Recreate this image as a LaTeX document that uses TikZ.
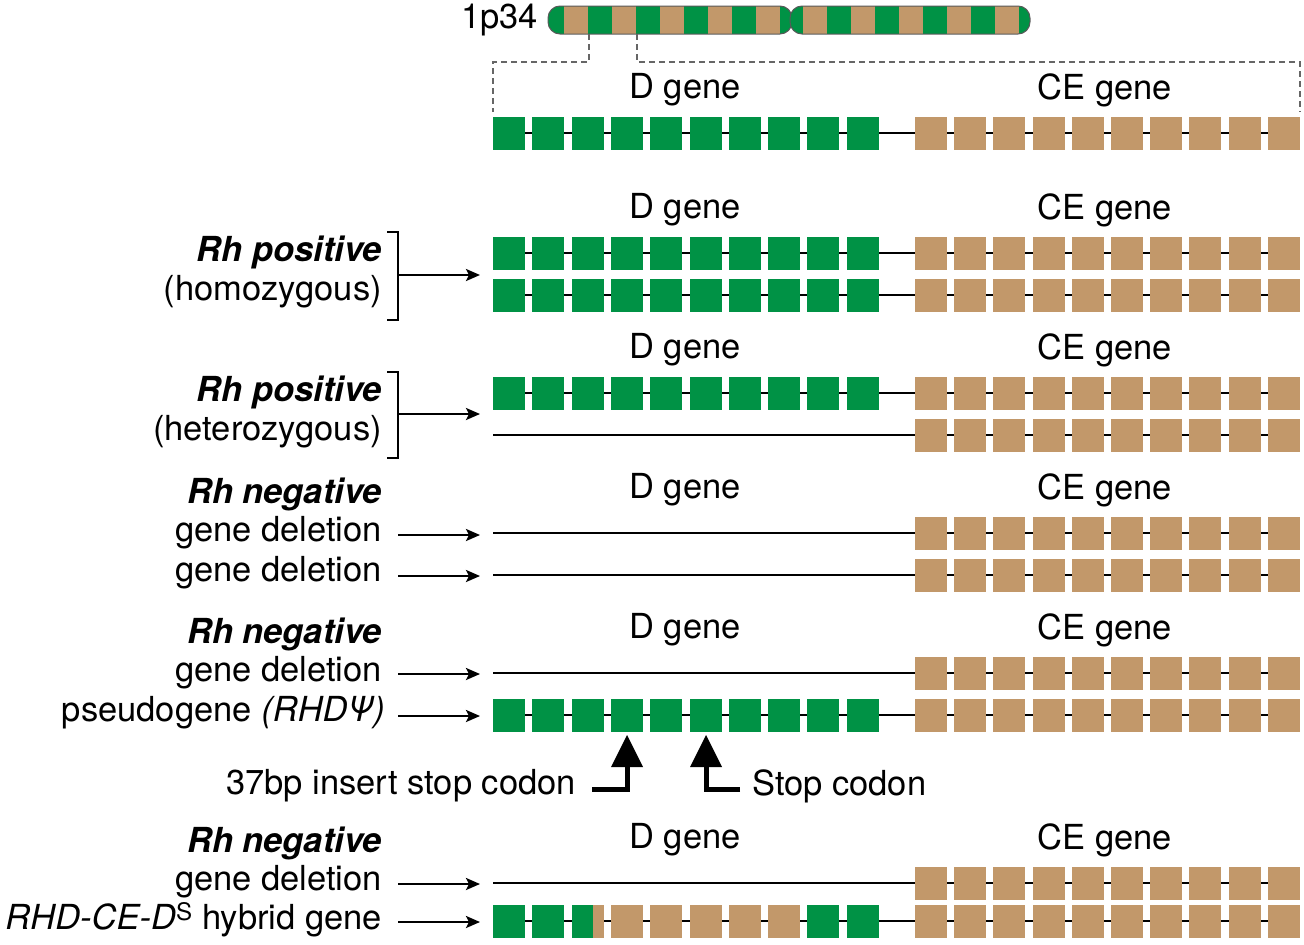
\documentclass[tikz,border=0pt]{standalone}
\usepackage{fontspec}
\setmainfont{TeX Gyre Heros}
\usetikzlibrary{arrows.meta}
\definecolor{dg}{RGB}{0,146,69}
\definecolor{tn}{RGB}{194,152,106}
\begin{document}
\begin{tikzpicture}[x=1pt,y=-1pt,
  lab/.style={anchor=east,font=\fontsize{34.5}{38}\selectfont,inner sep=0pt},
  glab/.style={font=\fontsize{34.5}{38}\selectfont,inner sep=0pt},
  arr/.style={-{Stealth[length=14pt,width=12pt,inset=3pt]},line width=2.4pt},
  bigarr/.style={line width=5pt}]
\useasboundingbox (0,0) rectangle (1304,945);
\newcommand\Dboxes[1]{\foreach \i in {0,...,9}{\fill[dg] (493+39.3*\i,#1-16.5) rectangle ++(32,33);}}
\newcommand\CEboxes[1]{\foreach \i in {0,...,9}{\fill[tn] (915+39.2*\i,#1-16.5) rectangle ++(32,33);}}
\newcommand\Line[1]{\draw[line width=1.8pt] (493,#1) -- (1300,#1);}
% chromosome
\begin{scope}
\clip[rounded corners=12pt] (548,6) rectangle (792,34);
\fill[dg] (548,6) rectangle (792,34);
\foreach \x in {564,612,660,708,756}{\fill[tn] (\x,6) rectangle ++(24,28);}
\end{scope}
\draw[gray!70!black,line width=1pt,rounded corners=12pt] (548,6) rectangle (792,34);
\begin{scope}
\clip[rounded corners=12pt] (790,6) rectangle (1030,34);
\fill[dg] (790,6) rectangle (1030,34);
\foreach \x in {803,851,899,947,995}{\fill[tn] (\x,6) rectangle ++(24,28);}
\end{scope}
\draw[gray!70!black,line width=1pt,rounded corners=12pt] (790,6) rectangle (1030,34);
\node[glab,anchor=east] (chr) at (538,20) {1p34};
\draw[dash pattern=on 6pt off 4pt,gray!80!black,line width=1.2pt] (589,34) -- (589,62) -- (493,62) -- (493,112);
\draw[dash pattern=on 6pt off 4pt,gray!80!black,line width=1.2pt] (637,34) -- (637,62) -- (1300,62) -- (1300,112);
\foreach \y/\t in {90/1,210/2,350/3,490/4,630/5,840/6}{
  \node[glab] (dg\t) at (685,\y) {D gene};
  \node[glab] (ce\t) at (1105,\y) {CE gene};}
\Line{133}\Dboxes{133}\CEboxes{133}
% homozygous
\Line{253}\Dboxes{253}\CEboxes{253}
\Line{295}\Dboxes{295}\CEboxes{295}
\node[lab] (a1) at (382,252) {\textbf{\textit{Rh positive}}};
\node[lab] (a2) at (382,292) {(homozygous)};
\draw[line width=2.4pt] (387,232) -- (398,232) -- (398,320) -- (387,320);
\coordinate (b1) at (398,275); \coordinate (e1) at (480,275);
\draw[arr] (b1) -- (e1);
% heterozygous
\Line{393}\Dboxes{393}\CEboxes{393}
\Line{435}\CEboxes{435}
\node[lab] (a3) at (382,392) {\textbf{\textit{Rh positive}}};
\node[lab] (a4) at (382,432) {(heterozygous)};
\draw[line width=2.4pt] (387,372) -- (398,372) -- (398,458) -- (387,458);
\coordinate (b2) at (398,414); \coordinate (e2) at (480,414);
\draw[arr] (b2) -- (e2);
% negative 1
\Line{533}\CEboxes{533}
\Line{575}\CEboxes{575}
\node[lab] (a5) at (382,494) {\textbf{\textit{Rh negative}}};
\node[lab] (a6) at (382,533) {gene deletion};
\node[lab] (a7) at (382,573) {gene deletion};
\foreach \y in {535,576}{\draw[arr] (398,\y) -- (480,\y);}
% negative 2
\Line{673}\CEboxes{673}
\Line{715}\Dboxes{715}\CEboxes{715}
\node[lab] (a8) at (382,634) {\textbf{\textit{Rh negative}}};
\node[lab] (a9) at (382,673) {gene deletion};
\node[lab] (a10) at (385,713) {pseudogene \textit{(RHDΨ)}};
\foreach \y in {674,716}{\draw[arr] (398,\y) -- (480,\y);}
% stop codon arrows
\draw[bigarr] (592,789) -- (627,789) -- (627,762);
\fill (627,735) -- (643,767) -- (611,767) -- cycle;
\draw[bigarr] (740,789) -- (706,789) -- (706,762);
\fill (706,735) -- (722,767) -- (690,767) -- cycle;
\node[lab] (s1) at (576,786) {37bp insert stop codon};
\node[glab,anchor=west] (s2) at (752,786) {Stop codon};
% negative 3
\Line{883}\CEboxes{883}
\Line{921}\CEboxes{921}
\foreach \i in {0,...,9}{\fill[tn] (493+39.3*\i,921-16.5) rectangle ++(32,33);}
\foreach \i in {0,1,8,9}{\fill[dg] (493+39.3*\i,921-16.5) rectangle ++(32,33);}
\fill[dg] (493+39.3*2,921-16.5) rectangle ++(21,33);
\node[lab] (a11) at (382,843) {\textbf{\textit{Rh negative}}};
\node[lab] (a12) at (382,882) {gene deletion};
\node[lab] (a13) at (382,920) {\textit{RHD-CE-D}\textsuperscript{S} hybrid gene};
\foreach \y in {884,922}{\draw[arr] (398,\y) -- (480,\y);}
\end{tikzpicture}
\end{document}
